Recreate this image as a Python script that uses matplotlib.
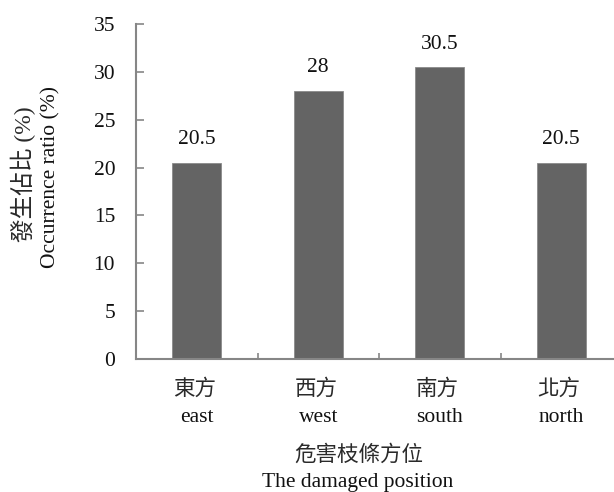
import matplotlib
matplotlib.use("Agg")
import matplotlib.pyplot as plt

categories_zh = ["東方", "西方", "南方", "北方"]
categories_en = ["east", "west", "south", "north"]
values = [20.5, 28, 30.5, 20.5]
value_labels = ["20.5", "28", "30.5", "20.5"]
yticks = [0, 5, 10, 15, 20, 25, 30, 35]

FAM = ["Liberation Serif", "Noto Sans CJK TC", "DejaVu Sans"]
plt.rcParams["font.family"] = FAM

FS = 15.5
FS_CJK = 15.5

W, H = 614, 492
fig = plt.figure(figsize=(W / 100, H / 100), dpi=100)
left, right, top, bottom = 136, 622, 24, 359
ax = fig.add_axes([left / W, 1 - bottom / H, (right - left) / W, (bottom - top) / H])

bar_color = "#646464"
axis_color = "#868686"
x = list(range(len(values)))
ax.bar(x, values, width=0.405, color=bar_color, edgecolor="#8a8a8a", linewidth=0.6, zorder=2)
ax.set_xlim(-0.5, len(values) - 0.5)
ax.set_ylim(0, 35)

for s in ["top", "right"]:
    ax.spines[s].set_visible(False)
for s in ["left", "bottom"]:
    ax.spines[s].set_color(axis_color)
    ax.spines[s].set_linewidth(1.5)

ax.set_yticks(yticks)
ax.set_yticklabels([str(v) for v in yticks], fontsize=FS, color="#111111")
ax.tick_params(axis="y", direction="in", length=5.5, width=1.2, color=axis_color, pad=15)
ax.set_xticks([i + 0.5 for i in x[:-1]])
ax.set_xticklabels([])
ax.tick_params(axis="x", direction="in", length=4.5, width=1.2, color=axis_color)

tr = ax.get_xaxis_transform()
for i in x:
    ax.text(i - 0.02, -30 / (bottom - top), categories_zh[i], transform=tr, ha="center", va="center",
            fontsize=FS_CJK, fontweight="light", color="#2a2a2a")
    ax.text(i, -59 / (bottom - top), categories_en[i], transform=tr, ha="center", va="center",
            fontsize=FS, color="#111111")
    ax.annotate(value_labels[i], (i, values[i]), xytext=(0, 23), textcoords="offset pixels",
                ha="center", va="center", fontsize=FS, color="#111111")

fig.text(359 / W, 1 - 455 / H, "危害枝條方位", ha="center", va="center", fontsize=FS_CJK,
         fontweight="light", color="#2a2a2a")
fig.text(358 / W, 1 - 483 / H, "The damaged position", ha="center", va="center", fontsize=FS,
         color="#111111")

fig.text(23 / W, 1 - 174 / H, "發生佔比 (%)", rotation=90, rotation_mode="anchor", ha="center",
         va="center", fontsize=17, fontweight="light", color="#2a2a2a")
fig.text(51 / W, 1 - 177 / H, "Occurrence ratio (%)", rotation=90, rotation_mode="anchor", ha="center",
         va="center", fontsize=FS, color="#111111")

fig.savefig("out.png", dpi=100)
